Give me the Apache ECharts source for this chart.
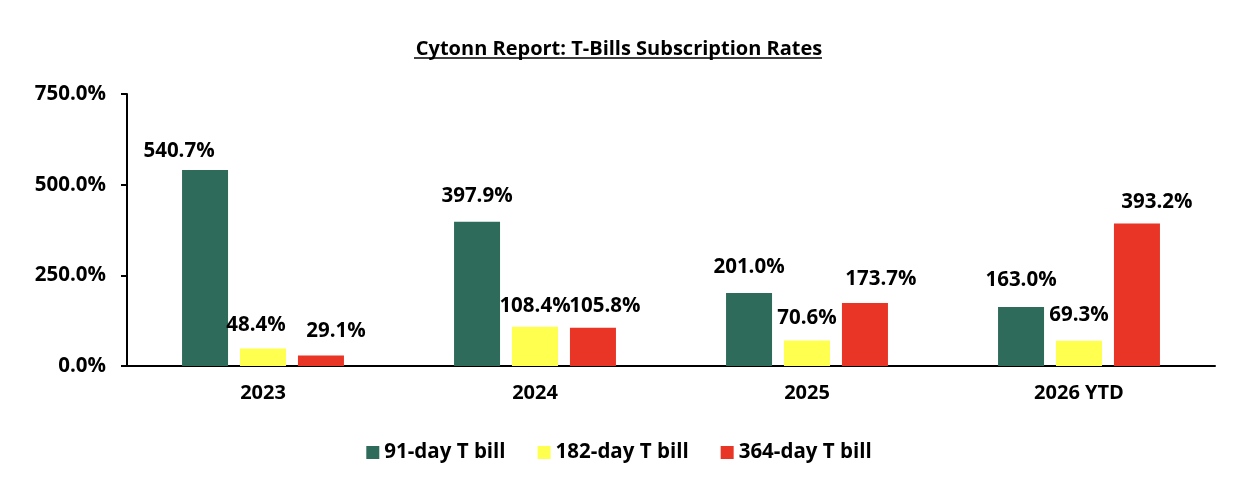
<!DOCTYPE html>
<html><head><meta charset="utf-8">
<script src="https://cdn.jsdelivr.net/npm/echarts@6/dist/echarts.min.js"></script>
<style>html,body{margin:0;padding:0;background:#fff}#c{width:1238px;height:492px}</style>
</head><body><div id="c"></div>
<script>
const categories = ['2023', '2024', '2025', '2026 YTD'];
const seriesNames = ['91-day T bill', '182-day T bill', '364-day T bill'];
const bill91 = [540.7, 397.9, 201.0, 163.0];
const bill182 = [48.4, 108.4, 70.6, 69.3];
const bill364 = [29.1, 105.8, 173.7, 393.2];

// label nudges [dx, dy] in px, per series per category (as placed in the reference)
const labelShift = [
  [[-26, 4], [0, -3], [0, -3], [0, -4]],
  [[-7, -1], [0, 2], [0, 0], [0, -3]],
  [[15, -2], [12, 1], [16, -1], [20, 1]]
];

const colors = ['#2E6B5A', '#FFFF4F', '#E83525'];
const font = '"Open Sans", sans-serif';
const chart = echarts.init(document.getElementById('c'));
const mk = (name, data, i) => ({
  name, type: 'bar', barWidth: 46, barGap: '26%',
  data: data.map((v, j) => ({ value: v, label: { offset: labelShift[i][j] } })),
  itemStyle: { color: colors[i] },
  label: { show: true, position: 'top', distance: 12, formatter: p => p.value.toFixed(1) + '%',
    color: '#000', fontWeight: 'bold', fontSize: 20.5, fontFamily: font }
});
chart.setOption({
  animation: false,
  title: { text: 'Cytonn Report: T-Bills Subscription Rates', left: 'center', top: 34,
    textStyle: { fontSize: 20, fontWeight: 'bold', fontFamily: font, color: '#000' } },
  graphic: [{ type: 'line', shape: { x1: 414, y1: 58, x2: 822, y2: 58 }, style: { stroke: '#000', lineWidth: 1.5 } }],
  grid: { left: 127, right: 23, top: 94, bottom: 126 },
  legend: { bottom: 24, left: 'center', itemWidth: 13, itemHeight: 13, itemGap: 32,
    icon: 'rect', textStyle: { fontSize: 20.5, fontWeight: 'bold', fontFamily: font, color: '#000' } },
  xAxis: { type: 'category', data: categories,
    axisLine: { lineStyle: { color: '#000', width: 2 } }, axisTick: { show: false },
    axisLabel: { fontSize: 20, fontWeight: 'bold', fontFamily: font, color: '#000', margin: 17 } },
  yAxis: { type: 'value', min: 0, max: 750, interval: 250,
    axisLine: { show: true, lineStyle: { color: '#000', width: 2 } },
    axisTick: { show: true, length: 6, lineStyle: { color: '#000', width: 2 } },
    splitLine: { show: false },
    axisLabel: { formatter: v => v.toFixed(1) + '%', fontSize: 20.5, fontWeight: 'bold', fontFamily: font, color: '#000', margin: 21 } },
  series: [mk(seriesNames[0], bill91, 0), mk(seriesNames[1], bill182, 1), mk(seriesNames[2], bill364, 2)]
});
</script></body></html>
